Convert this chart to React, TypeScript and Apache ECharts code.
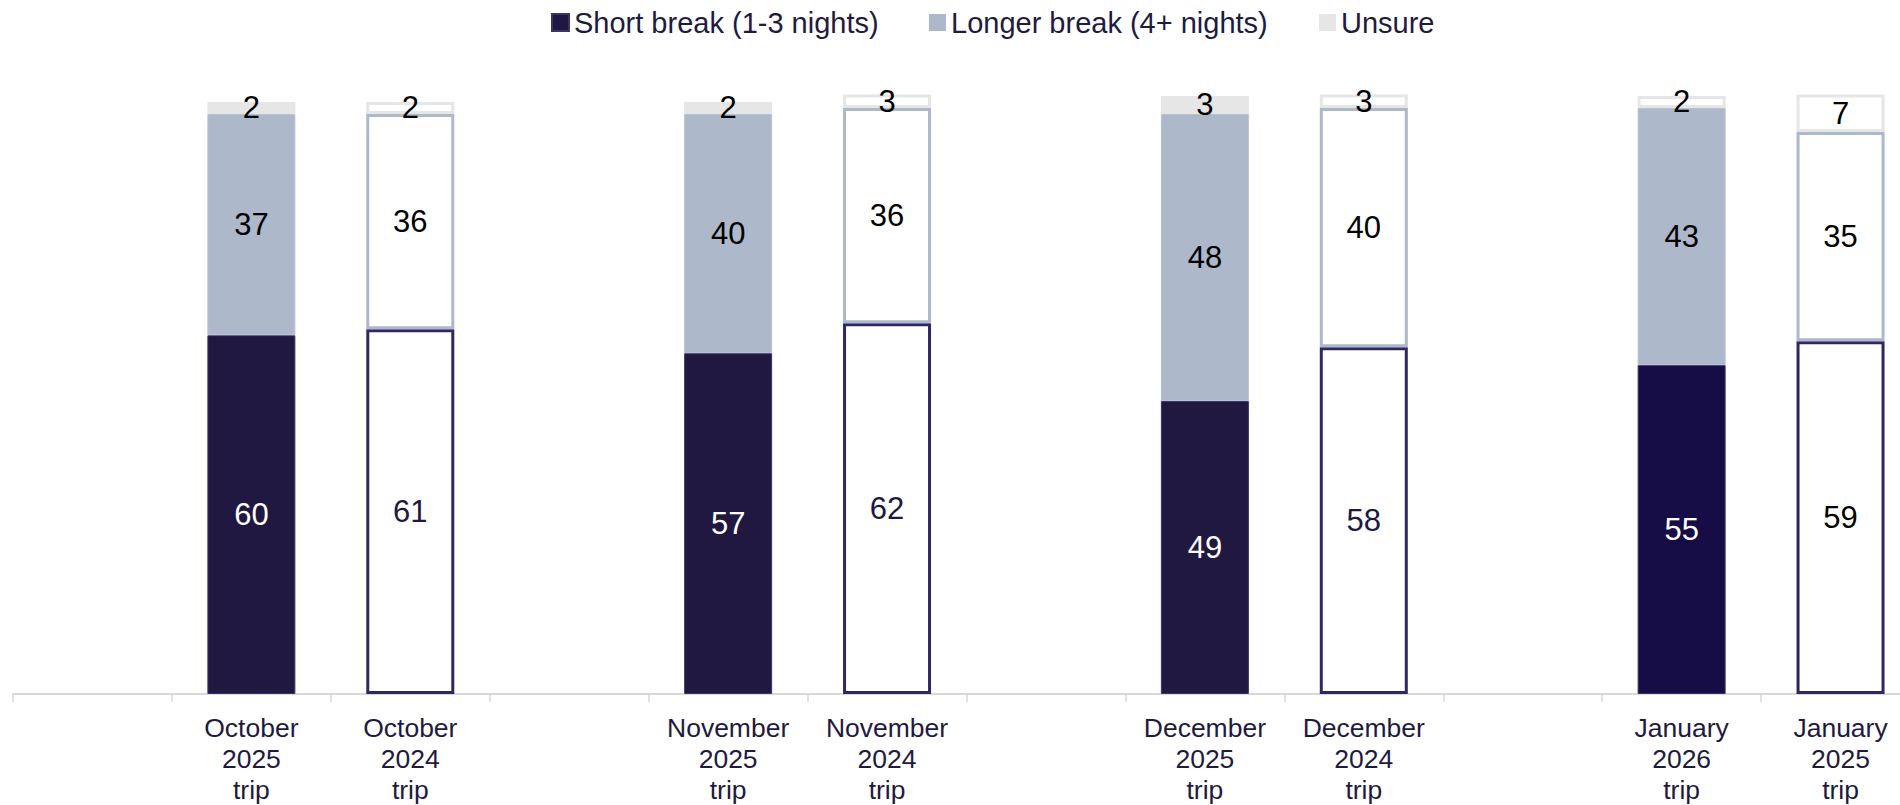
import React, { useEffect, useRef } from "react";
import * as echarts from "echarts";

// ---- data ----
const categories: string[] = [
  " ",
  "October\n2025\ntrip",
  "October\n2024\ntrip",
  "  ",
  "November\n2025\ntrip",
  "November\n2024\ntrip",
  "   ",
  "December\n2025\ntrip",
  "December\n2024\ntrip",
  "    ",
  "January\n2026\ntrip",
  "January\n2025\ntrip",
];
// which period each slot is: "current" = filled bar, "previous" = outlined bar
const periodKind: string[] = ["", "current", "previous", "", "current", "previous", "", "current", "previous", "", "current", "previous"];
const shortBreak: (number | null)[] = [null, 60, 61, null, 57, 62, null, 49, 58, null, 55, 59];
const longerBreak: (number | null)[] = [null, 37, 36, null, 40, 36, null, 48, 40, null, 43, 35];
const unsure: (number | null)[] = [null, 2, 2, null, 2, 3, null, 3, 3, null, 2, 7];
const seriesNames = ["Short break (1-3 nights)", "Longer break (4+ nights)", "Unsure"];

const FONT = "'Liberation Sans', Arial, sans-serif";
const NAVY = "#201841";
const NAVY_BORDER = "#2f2860";
const LONG = "#adb8ca";
const UNSURE = "#e6e6e6";
const TEXT = "#1f1a40";

function App() {
  const ref = useRef<HTMLDivElement>(null);
  useEffect(() => {
    document.body.style.margin = "0";
    if (!ref.current) return;
    const chart = echarts.init(ref.current, null, { renderer: "svg" });

    const buildShort = shortBreak.map((v, i) => {
      if (v == null) return null;
      if (periodKind[i] === "previous") {
        return {
          value: v,
          itemStyle: { color: "#ffffff", borderColor: NAVY_BORDER, borderWidth: 3 },
          label: { color: i === 11 ? "#000000" : NAVY },
        };
      }
      return {
        value: v,
        itemStyle: { color: i === 10 ? "#160c46" : NAVY, borderColor: "#3a3468", borderWidth: 1 },
        label: { color: "#ffffff" },
      };
    });
    const buildLonger = longerBreak.map((v, i) => {
      if (v == null) return null;
      if (periodKind[i] === "previous") {
        return { value: v, itemStyle: { color: "#ffffff", borderColor: LONG, borderWidth: 3 } };
      }
      return { value: v, itemStyle: { color: LONG, borderColor: "#b8c1d1", borderWidth: 1 } };
    });
    const buildUnsure = unsure.map((v, i) => {
      if (v == null) return null;
      if (periodKind[i] === "previous" || i === 10) {
        return { value: v, itemStyle: { color: "#ffffff", borderColor: UNSURE, borderWidth: 3 } };
      }
      return { value: v, itemStyle: { color: UNSURE } };
    });

    const labelBase = {
      show: true,
      position: "inside" as const,
      fontSize: 31,
      fontFamily: FONT,
      color: "#000000",
    };

    const legendBase = {
      top: 3,
      itemWidth: 17,
      itemHeight: 17,
      icon: "rect",
      textStyle: { fontSize: 29, fontFamily: FONT, color: TEXT },
      selectedMode: false as const,
    };

    chart.setOption({
      animation: false,
      legend: [
        { ...legendBase, left: 546, data: [seriesNames[0]] },
        { ...legendBase, left: 924, data: [seriesNames[1]] },
        { ...legendBase, left: 1314, data: [seriesNames[2]] },
      ],
      grid: { left: 13, right: 0, top: 96, bottom: 107, containLabel: false },
      xAxis: {
        type: "category",
        data: categories,
        boundaryGap: true,
        axisLine: { show: true, lineStyle: { color: "#d9d9d9", width: 2 } },
        axisTick: { show: true, length: 8, lineStyle: { color: "#d9d9d9", width: 1.5 } },
        axisLabel: {
          interval: 0,
          fontSize: 26.5,
          lineHeight: 31,
          fontFamily: FONT,
          color: TEXT,
          margin: 18,
        },
      },
      yAxis: { type: "value", min: 0, max: 100, show: false, splitLine: { show: false } },
      series: [
        {
          name: seriesNames[0],
          type: "bar",
          stack: "total",
          barWidth: 88,
          data: buildShort,
          itemStyle: { color: NAVY, borderColor: "#3a3468", borderWidth: 1 },
          label: labelBase,
        },
        {
          name: seriesNames[1],
          type: "bar",
          stack: "total",
          barWidth: 88,
          data: buildLonger,
          itemStyle: { color: LONG },
          label: labelBase,
        },
        {
          name: seriesNames[2],
          type: "bar",
          stack: "total",
          barWidth: 88,
          data: buildUnsure,
          itemStyle: { color: UNSURE },
          label: labelBase,
        },
      ],
    });
    return () => chart.dispose();
  }, []);
  return (
    <div style={{ width: 1900, height: 805, overflow: "hidden", position: "relative" }}>
      <div ref={ref} style={{ width: 1920, height: 805 }} />
    </div>
  );
}

export default App;
